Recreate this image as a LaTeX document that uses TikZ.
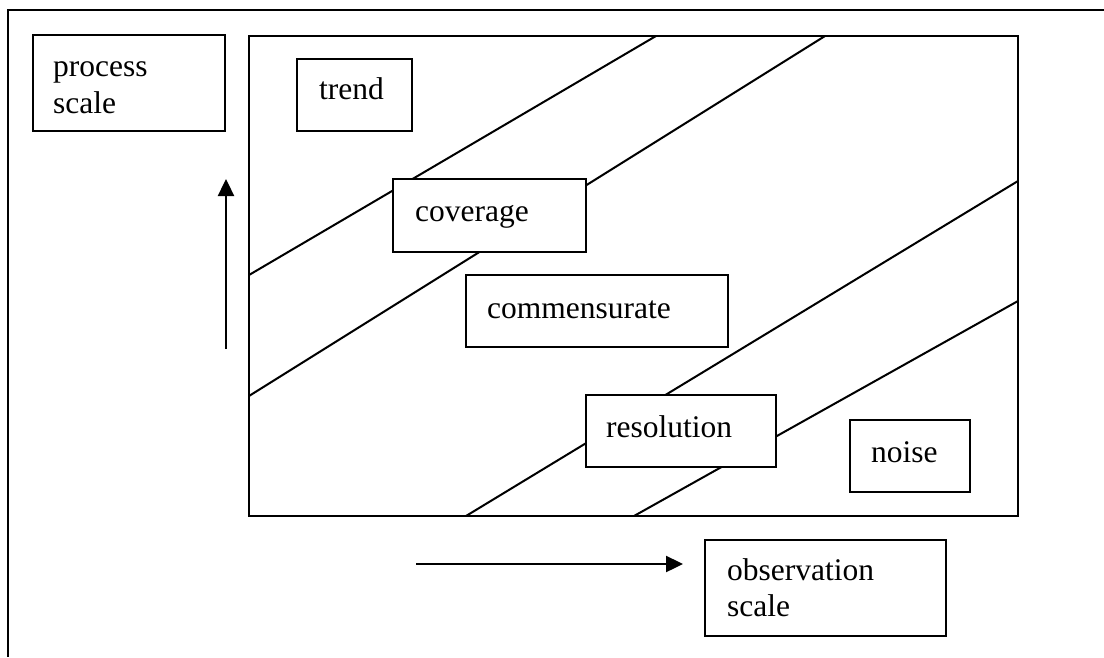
\documentclass[tikz,border=0pt]{standalone}
\usepackage{fontspec}
\setmainfont{Liberation Serif}
\usetikzlibrary{arrows.meta}
\tikzset{
  box/.style={draw, line width=2pt, fill=white, inner sep=0pt, outer sep=0pt, anchor=north west},
  frame/.style={draw, line width=2pt, inner sep=0pt, outer sep=0pt, anchor=north west},
  lbl/.style={inner sep=0pt, anchor=base west, font=\fontsize{31.5}{38}\selectfont},
  diag/.style={line width=2pt},
  axis/.style={line width=2.4pt, -{Triangle[length=17pt,width=16pt]}}
}
\begin{document}
\begin{tikzpicture}[x=1pt,y=-1pt]
\useasboundingbox (0,0) rectangle (1104,657);
% outer frame (cut off at right and bottom)
\coordinate (ftr) at (1104,10);
\coordinate (ftl) at (8,10);
\coordinate (fbl) at (8,657);
\draw[line width=2pt] (ftr) -- (ftl) -- (fbl);
% main plot area
\node[frame, minimum width=769pt, minimum height=480pt] (main) at (249,36) {};
% diagonal band lines
\coordinate (a1) at (249,275); \coordinate (b1) at (656,36);
\coordinate (a2) at (249,396); \coordinate (b2) at (825,36);
\coordinate (a3) at (466,516); \coordinate (b3) at (1018,181);
\coordinate (a4) at (634,516); \coordinate (b4) at (1018,301);
\draw[diag] (a1) -- (b1);
\draw[diag] (a2) -- (b2);
\draw[diag] (a3) -- (b3);
\draw[diag] (a4) -- (b4);
% boxes
\node[box, minimum width=192pt, minimum height=96pt] (process) at (33,35) {};
\node[lbl] (processtxt) at (53,76) {process};
\node[lbl] (processtxt2) at (53,113) {scale};
\node[box, minimum width=115pt, minimum height=72pt] (trend) at (297,59) {};
\node[lbl] (trendtxt) at (319,99) {trend};
\node[box, minimum width=193pt, minimum height=73pt] (coverage) at (393,179) {};
\node[lbl] (coveragetxt) at (415,221) {coverage};
\node[box, minimum width=262pt, minimum height=72pt] (comm) at (466,275) {};
\node[lbl] (commtxt) at (487,318) {commensurate};
\node[box, minimum width=190pt, minimum height=72pt] (res) at (586,395) {};
\node[lbl] (restxt) at (606,437) {resolution};
\node[box, minimum width=120pt, minimum height=72pt] (noise) at (850,420) {};
\node[lbl] (noisetxt) at (871,462) {noise};
\node[box, minimum width=241pt, minimum height=96pt] (obs) at (705,540) {};
\node[lbl] (obstxt) at (727,580) {observation};
\node[lbl] (obstxt2) at (727,616) {scale};
% axis arrows
\coordinate (vs) at (226,349); \coordinate (ve) at (226,179);
\coordinate (hs) at (416,564); \coordinate (he) at (683,564);
\draw[axis] (vs) -- (ve);
\draw[axis] (hs) -- (he);
\end{tikzpicture}
\end{document}
